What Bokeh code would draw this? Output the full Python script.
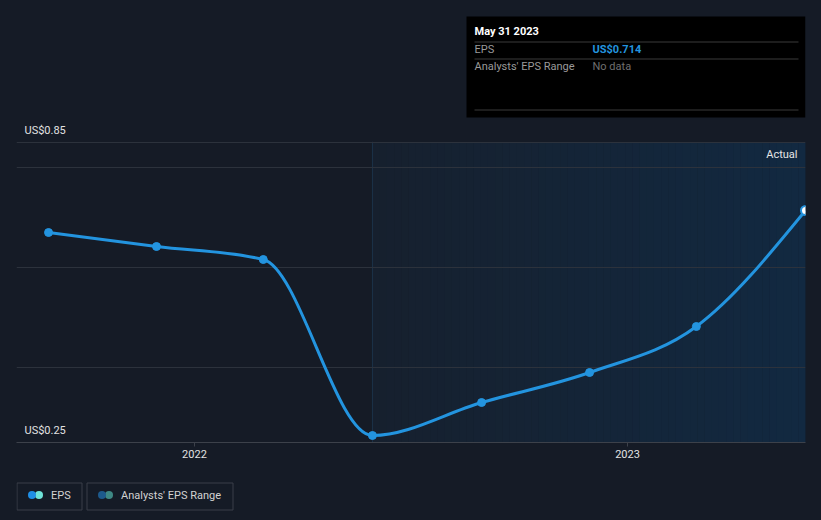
import numpy as np
import pandas as pd
from bokeh.plotting import figure
from bokeh.layouts import column
from bokeh.models import Range1d, FixedTicker, Label, Span, Grid
from bokeh.embed import file_html
from bokeh.resources import INLINE

# ---------------- data ----------------
dates = ["2021-08-31", "2021-11-30", "2022-02-28", "2022-05-31",
         "2022-08-31", "2022-11-30", "2023-02-28", "2023-05-31"]
eps = [0.670, 0.642, 0.616, 0.264, 0.330, 0.390, 0.482, 0.714]
x_tick_dates = ["2022-01-01", "2023-01-01"]
x_tick_labels = ["2022", "2023"]
y_label_values = [0.85, 0.25]
y_label_texts = ["US$0.85", "US$0.25"]
grid_values = [0.4, 0.6, 0.8, 0.85]
actual_start = "2022-05-31"
x_start, x_end = "2021-08-04", "2023-05-31"
y_start, y_end = 0.25, 0.85
tooltip_title = "May 31 2023"
tooltip_rows = [("EPS", "US$0.714"), ("Analysts' EPS Range", "No data")]
legend_items = ["EPS", "Analysts' EPS Range"]

# ---------------- styles ----------------
W = 821
BL, BR = 16, 16          # left / right borders shared by all strips
TOP_H, MAIN_H, BOT_H = 141, 331, 48
FRAME_H = 301            # one spare pixel row above the 0.85 line
PX = (y_end - y_start) / (FRAME_H - 1)   # value per pixel
BG = "#151b26"
BLUE = "#2394df"
FONT = "Roboto"


def ms(d):
    return pd.Timestamp(d).value / 1e6


def plain(fig):
    # transparent fills: the page background supplies the dark colour
    fig.background_fill_color = None
    fig.border_fill_color = None
    fig.outline_line_color = None
    fig.min_border = 0
    fig.min_border_left = BL
    fig.min_border_right = BR
    return fig


def pixel_fig(h):
    f = figure(width=W, height=h, output_backend="svg", toolbar_location=None,
               x_range=Range1d(BL, W - BR), y_range=Range1d(h, 0),
               x_axis_location=None, y_axis_location=None)
    f.grid.visible = False
    return plain(f)


def txt(fig, x, y, text, **kw):
    base = dict(text_font=FONT, text_font_size="11px", text_baseline="middle")
    base.update(kw)
    fig.add_layout(Label(x=x, y=y, text=text, **base))


xs_ms = np.array([ms(d) for d in dates])
ys = np.array(eps)

# ---------------- top strip: tooltip + top y label ----------------
top = pixel_fig(TOP_H)
top.quad(left=466, right=805, top=16, bottom=117, fill_color="#000000",
         line_color=None)
top.segment(x0=[474] * 3, x1=[798] * 3, y0=[41.5, 58.5, 109.5],
            y1=[41.5, 58.5, 109.5], line_color="#3a3a3a", line_width=1)
txt(top, 474, 31, tooltip_title, text_color="#ffffff", text_font_style="bold")
row_y = [49, 66]
val_cols = [BLUE, "#6f6f6f"]
for (k, v), yy, vc in zip(tooltip_rows, row_y, val_cols):
    txt(top, 474, yy, k, text_color="#9a9a9a")
    txt(top, 592, yy, v, text_color=vc,
        text_font_style="bold" if vc == BLUE else "normal")
txt(top, 24, 130, y_label_texts[0], text_color="#e2e2e2")

# ---------------- main chart ----------------
p = figure(width=W, height=MAIN_H, output_backend="svg", toolbar_location=None,
           x_axis_type="datetime", y_axis_location=None,
           x_range=Range1d(ms(x_start), ms(x_end)),
           y_range=Range1d(y_start, y_end + PX))
plain(p)
p.min_border_bottom = MAIN_H - FRAME_H
p.grid.visible = False

# shaded "Actual" region with gradient made of thin bands
a0, a1 = ms(actual_start), ms(x_end)
n = 60
edges = np.linspace(a0, a1, n + 1)
c_left = np.array([0x16, 0x20, 0x2e])
c_right = np.array([0x12, 0x29, 0x41])
cols = []
for i in range(n):
    t = i / (n - 1)
    c = (c_left * (1 - t) + c_right * t).round().astype(int)
    cols.append("#%02x%02x%02x" % tuple(c))
shade = p.quad(left=edges[:-1], right=edges[1:] + (edges[1] - edges[0]) * 0.05,
               bottom=y_start, top=y_end, fill_color=cols, line_color=None)
shade.level = "image"

p.add_layout(Span(location=a0, dimension="height", line_color="#1b3249",
                  line_width=1, level="underlay"))

grid = Grid(dimension=1, ticker=FixedTicker(ticks=grid_values),
            grid_line_color="#2c323c", grid_line_width=1)
p.add_layout(grid)

ax = p.xaxis[0]
ax.ticker = FixedTicker(ticks=[ms(d) for d in x_tick_dates])
ax.major_label_overrides = {ms(d): lab for d, lab in zip(x_tick_dates, x_tick_labels)}
ax.axis_line_color = "#3c414a"
ax.major_tick_line_color = "#3c414a"
ax.major_tick_in = 0
ax.major_tick_out = 4
ax.minor_tick_line_color = None
ax.major_label_text_color = "#e2e2e2"
ax.major_label_text_font = FONT
ax.major_label_text_font_size = "11px"
ax.major_label_standoff = 3

# monotone cubic (d3 curveMonotoneX) bezier segments
xd = (xs_ms - xs_ms[0]) / 86400000.0
npt = len(xd)
h = np.diff(xd)
s = np.diff(ys) / h
tg = np.zeros(npt)
for i in range(1, npt - 1):
    pp = (s[i - 1] * h[i] + s[i] * h[i - 1]) / (h[i - 1] + h[i])
    tg[i] = (np.sign(s[i - 1]) + np.sign(s[i])) * min(abs(s[i - 1]), abs(s[i]), 0.5 * abs(pp))
tg[0] = (3 * s[0] - tg[1]) / 2
tg[-1] = (3 * s[-1] - tg[-2]) / 2
dx = h / 3
to_ms = lambda d: xs_ms[0] + d * 86400000.0
p.bezier(x0=xs_ms[:-1], y0=ys[:-1], x1=xs_ms[1:], y1=ys[1:],
         cx0=to_ms(xd[:-1] + dx), cy0=ys[:-1] + dx * tg[:-1],
         cx1=to_ms(xd[1:] - dx), cy1=ys[1:] - dx * tg[1:],
         line_color=BLUE, line_width=3)

p.scatter(xs_ms[:-1], ys[:-1], size=8, fill_color=BLUE, line_color=BLUE)
p.scatter(xs_ms[-1:], ys[-1:], size=9, fill_color="#ffffff", line_color=BLUE,
          line_width=2)

p.add_layout(Label(x=8, y=y_label_values[1], x_units="screen",
                   text=y_label_texts[1], text_color="#e2e2e2", text_font=FONT,
                   text_font_size="11px", text_baseline="middle", y_offset=12))
p.add_layout(Label(x=ms(x_end), y=y_end, text="Actual",
                   text_color="#e6e6e6", text_font=FONT, text_font_size="11px",
                   text_baseline="middle", text_align="right",
                   x_offset=-8, y_offset=-12))

# ---------------- bottom strip: legend ----------------
bot = pixel_fig(BOT_H)
boxes_l = [16.5, 86.5]
boxes_r = [81.5, 232.5]
bot.quad(left=boxes_l, right=boxes_r, top=10.5, bottom=37.5, fill_color=None,
         line_color="#3a3f48", line_width=1)
icon_cols = [("#1f8fe6", "#6fe3d8"), ("#1d5a8c", "#3e8884")]
for l, lab, (c1, c2) in zip(boxes_l, legend_items, icon_cols):
    cx = l + 15
    bot.scatter([cx + 7], [22.5], size=8, fill_color=c2, line_color=None)
    bot.scatter([cx], [22.5], size=8, fill_color=c1, line_color=None)
    txt(bot, l + 34, 23, lab, text_color="#d2d2d2")

layout = column(top, p, bot, spacing=0)
html = file_html(layout, INLINE)
style = "<style>html,body{margin:0;padding:0;background:%s;}</style>" % BG
html = html.replace("</head>", style + "</head>", 1)
open("out.html", "w").write(html)
